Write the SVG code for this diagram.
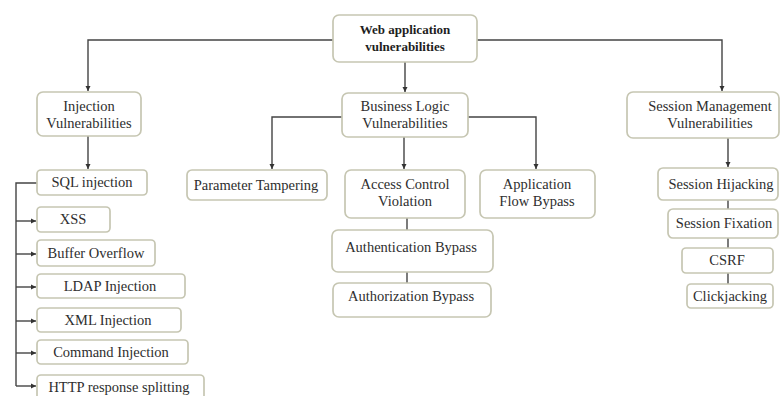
<svg xmlns="http://www.w3.org/2000/svg" width="780" height="396" viewBox="0 0 780 396">
<defs>
<style>
.box{fill:#fff;stroke:#c6c6b2;stroke-width:1.7}
.t{font-family:"Liberation Serif","Times New Roman",serif;font-size:14.5px;fill:#2e2e2e;text-anchor:middle}
.b{font-weight:bold;font-size:13px;fill:#1e1e1e}
.c{fill:none;stroke:#444;stroke-width:1.4}
</style>
<marker id="ah" markerWidth="6" markerHeight="6" refX="5" refY="3" orient="auto" markerUnits="userSpaceOnUse">
<path d="M0,0.5 L5,3 L0,5.5 z" fill="#333"/>
</marker>
</defs>
<rect width="780" height="396" fill="#fff"/>
<g id="connectors">
<path class="c" d="M333,40 H88 V91" marker-end="url(#ah)"/>
<path class="c" d="M477,40 H722 V91" marker-end="url(#ah)"/>
<path class="c" d="M405,62 V92" marker-end="url(#ah)"/>
<path class="c" d="M88,136 V169" marker-end="url(#ah)"/>
<path class="c" d="M37,183 H16 V386"/>
<path class="c" d="M16,221 H36" marker-end="url(#ah)"/>
<path class="c" d="M16,254 H36" marker-end="url(#ah)"/>
<path class="c" d="M16,287 H36" marker-end="url(#ah)"/>
<path class="c" d="M16,321 H36" marker-end="url(#ah)"/>
<path class="c" d="M16,353 H36" marker-end="url(#ah)"/>
<path class="c" d="M16,386 H36" marker-end="url(#ah)"/>
<path class="c" d="M342,117 H272 V169" marker-end="url(#ah)"/>
<path class="c" d="M468,117 H536 V169" marker-end="url(#ah)"/>
<path class="c" d="M404,137 V169" marker-end="url(#ah)"/>
<path class="c" d="M407,218 V230"/>
<path class="c" d="M407,272 V283"/>
<path class="c" d="M728,138 V167" marker-end="url(#ah)"/>
<path class="c" d="M728,200 V209"/>
<path class="c" d="M728,238 V248"/>
<path class="c" d="M728,273 V284"/>
</g>
<g id="root"><rect class="box" x="333" y="15" width="144" height="47" rx="6"/><text class="t b" x="405" y="34">Web application</text><text class="t b" x="405" y="51">vulnerabilities</text></g>
<g id="injection"><rect class="box" x="37" y="92" width="104" height="44" rx="6"/><text class="t" x="89" y="111">Injection</text><text class="t" x="89" y="128">Vulnerabilities</text></g>
<g id="business"><rect class="box" x="342" y="93" width="126" height="44" rx="6"/><text class="t" x="405" y="111">Business Logic</text><text class="t" x="405" y="128">Vulnerabilities</text></g>
<g id="session"><rect class="box" x="627" y="92" width="152" height="46" rx="6"/><text class="t" x="710" y="111">Session Management</text><text class="t" x="710" y="128">Vulnerabilities</text></g>
<g id="sql"><rect class="box" x="37" y="170" width="110" height="25" rx="4"/><text class="t" x="92" y="187">SQL injection</text></g>
<g id="xss"><rect class="box" x="37" y="207" width="73" height="25" rx="4"/><text class="t" x="73" y="224">XSS</text></g>
<g id="buffer"><rect class="box" x="37" y="240" width="118" height="26" rx="4"/><text class="t" x="96" y="258">Buffer Overflow</text></g>
<g id="ldap"><rect class="box" x="37" y="274" width="148" height="24" rx="4"/><text class="t" x="110" y="291">LDAP Injection</text></g>
<g id="xml"><rect class="box" x="37" y="308" width="144" height="24" rx="4"/><text class="t" x="108" y="325">XML Injection</text></g>
<g id="command"><rect class="box" x="37" y="340" width="151" height="24" rx="4"/><text class="t" x="111" y="357">Command Injection</text></g>
<g id="http"><rect class="box" x="37" y="375" width="167" height="26" rx="4"/><text class="t" x="119" y="392">HTTP response splitting</text></g>
<g id="param"><rect class="box" x="187" y="170" width="140" height="30" rx="5"/><text class="t" x="256" y="190">Parameter Tampering</text></g>
<g id="access"><rect class="box" x="345" y="170" width="120" height="48" rx="6"/><text class="t" x="405" y="189">Access Control</text><text class="t" x="405" y="206">Violation</text></g>
<g id="appflow"><rect class="box" x="480" y="170" width="115" height="48" rx="6"/><text class="t" x="537" y="189">Application</text><text class="t" x="537" y="206">Flow Bypass</text></g>
<g id="authn"><rect class="box" x="332" y="230" width="161" height="42" rx="6"/><text class="t" x="411" y="252">Authentication Bypass</text></g>
<g id="authz"><rect class="box" x="333" y="283" width="158" height="34" rx="6"/><text class="t" x="411" y="301">Authorization Bypass</text></g>
<g id="hijack"><rect class="box" x="658" y="168" width="120" height="32" rx="5"/><text class="t" x="721" y="189">Session Hijacking</text></g>
<g id="fixation"><rect class="box" x="668" y="209" width="110" height="29" rx="5"/><text class="t" x="724" y="228">Session Fixation</text></g>
<g id="csrf"><rect class="box" x="682" y="248" width="91" height="25" rx="4"/><text class="t" x="727" y="265">CSRF</text></g>
<g id="click"><rect class="box" x="687" y="284" width="86" height="24" rx="4"/><text class="t" x="730" y="301">Clickjacking</text></g>
</svg>
